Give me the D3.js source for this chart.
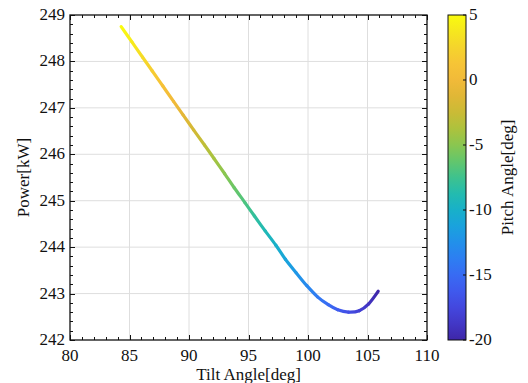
<!DOCTYPE html>
<html>
<head>
<meta charset="utf-8">
<script src="https://cdn.jsdelivr.net/npm/d3@7"></script>
<style>
  body { margin: 0; background: #fff; }
</style>
</head>
<body>
<div id="chart"></div>
<script>
// Data
const pitchAngle = [5, 4, 3, 2, 1, 0, -1, -2, -3, -4, -5, -6, -7, -8, -9, -10, -11, -12, -13, -14, -15, -16, -17, -18, -19, -20];
const tiltAngle = [84.3, 85.2, 86.1, 86.9, 87.8, 88.7, 89.5, 90.4, 91.3, 92.1, 93.0, 93.8, 94.7, 95.5, 96.4, 97.3, 98.1, 99.0, 99.9, 100.8, 101.7, 102.5, 103.4, 104.3, 105.1, 105.9];
const power = [248.75, 248.42, 248.09, 247.80, 247.47, 247.14, 246.85, 246.52, 246.20, 245.91, 245.58, 245.28, 244.96, 244.67, 244.35, 244.04, 243.74, 243.45, 243.17, 242.93, 242.76, 242.65, 242.60, 242.63, 242.78, 243.05];

const xTicks = [80, 85, 90, 95, 100, 105, 110];
const yTicks = [242, 243, 244, 245, 246, 247, 248, 249];
const cTicks = [5, 0, -5, -10, -15, -20];

// parula-like colormap stops
const parulaStops = ["#3e26a8", "#4644e0", "#3d64f6", "#2886f2", "#14a8dc", "#1bbdb0", "#5ec86c", "#a9c63a", "#d9b532", "#fbb83e", "#f3d62c", "#f9fb0e"];

const width = 528, height = 383;
const margin = { left: 70, right: 101, top: 15, bottom: 43 };
const plotW = width - margin.left - margin.right;
const plotH = height - margin.top - margin.bottom;
const serif = '"Liberation Serif", "Times New Roman", "DejaVu Serif", serif';

const svg = d3.select('#chart').append('svg')
    .attr('width', width)
    .attr('height', height)
    .attr('font-family', serif)
    .style('font-family', serif);

const x = d3.scaleLinear().domain([80, 110]).range([margin.left, margin.left + plotW]);
const y = d3.scaleLinear().domain([242, 249]).range([margin.top + plotH, margin.top]);
const parula = d3.interpolateRgbBasis(parulaStops);
const color = d3.scaleSequential(parula).domain([-20, 5]);

// grid
const grid = svg.append('g');
grid.selectAll('.gx').data(xTicks.slice(1, -1)).enter().append('line')
    .attr('x1', d => x(d)).attr('x2', d => x(d))
    .attr('y1', margin.top).attr('y2', margin.top + plotH)
    .attr('stroke', '#dedede').attr('stroke-width', 1);
grid.selectAll('.gy').data(yTicks.slice(1, -1)).enter().append('line')
    .attr('x1', margin.left).attr('x2', margin.left + plotW)
    .attr('y1', d => y(d)).attr('y2', d => y(d))
    .attr('stroke', '#dedede').attr('stroke-width', 1);

// curve: smooth catmull-rom pieces, each with its own gradient
const pts = tiltAngle.map((t, i) => [x(t), y(power[i])]);
const n = pts.length;
const defs = svg.append('defs');
const segs = d3.range(n - 1).map(i => {
    const p0 = pts[Math.max(i - 1, 0)], p1 = pts[i], p2 = pts[i + 1], p3 = pts[Math.min(i + 2, n - 1)];
    const c1 = [p1[0] + (p2[0] - p0[0]) / 6, p1[1] + (p2[1] - p0[1]) / 6];
    const c2 = [p2[0] - (p3[0] - p1[0]) / 6, p2[1] - (p3[1] - p1[1]) / 6];
    return {
        p1, p2,
        d: `M${p1}C${c1} ${c2} ${p2}`,
        col1: color(pitchAngle[i]), col2: color(pitchAngle[i + 1])
    };
});
segs.forEach((s, i) => {
    const g = defs.append('linearGradient')
        .attr('id', 'seg' + i)
        .attr('gradientUnits', 'userSpaceOnUse')
        .attr('x1', s.p1[0]).attr('y1', s.p1[1]).attr('x2', s.p2[0]).attr('y2', s.p2[1]);
    g.append('stop').attr('offset', 0).attr('stop-color', s.col1);
    g.append('stop').attr('offset', 1).attr('stop-color', s.col2);
});
svg.append('g').selectAll('path').data(segs).enter().append('path')
    .attr('d', d => d.d)
    .attr('fill', 'none')
    .attr('stroke', (d, i) => `url(#seg${i})`)
    .attr('stroke-width', 3.2)
    .attr('stroke-linecap', 'round');

// axes: box with inward ticks on all sides
const xMinor = d3.range(80, 110.01, 1);
const yMinor = d3.range(242, 249.001, 0.2);
const tk = svg.append('g').attr('stroke', '#111').attr('stroke-width', 1);
function tickLines(vals, len, isX) {
    vals.forEach(v => {
        if (isX) {
            const px = Math.round(x(v)) + 0.5;
            tk.append('line').attr('x1', px).attr('x2', px).attr('y1', margin.top + plotH).attr('y2', margin.top + plotH - len);
            tk.append('line').attr('x1', px).attr('x2', px).attr('y1', margin.top).attr('y2', margin.top + len);
        } else {
            const py = Math.round(y(v)) + 0.5;
            tk.append('line').attr('y1', py).attr('y2', py).attr('x1', margin.left).attr('x2', margin.left + len);
            tk.append('line').attr('y1', py).attr('y2', py).attr('x1', margin.left + plotW).attr('x2', margin.left + plotW - len);
        }
    });
}
tickLines(xMinor, 3, true);
tickLines(xTicks, 5, true);
tickLines(yMinor, 3, false);
tickLines(yTicks, 5, false);
svg.append('rect')
    .attr('x', margin.left).attr('y', margin.top)
    .attr('width', plotW).attr('height', plotH)
    .attr('fill', 'none').attr('stroke', '#111').attr('stroke-width', 1.3);

// tick labels
svg.append('g').selectAll('text').data(xTicks).enter().append('text')
    .attr('x', d => x(d)).attr('y', margin.top + plotH + 21)
    .attr('text-anchor', 'middle').attr('font-size', 17).attr('fill', '#111')
    .text(d => d);
svg.append('g').selectAll('text').data(yTicks).enter().append('text')
    .attr('x', margin.left - 5).attr('y', d => y(d) + 5)
    .attr('text-anchor', 'end').attr('font-size', 17).attr('fill', '#111')
    .text(d => d);

// axis labels
svg.append('text')
    .attr('x', x(95)).attr('y', 380)
    .attr('text-anchor', 'middle').attr('font-size', 17).attr('fill', '#111')
    .text('Tilt Angle[deg]');
svg.append('text')
    .attr('transform', `translate(29,${margin.top + plotH / 2}) rotate(-90)`)
    .attr('text-anchor', 'middle').attr('font-size', 17).attr('fill', '#111')
    .text('Power[kW]');

// colorbar
const cbX = 448, cbW = 18;
const cy = d3.scaleLinear().domain([-20, 5]).range([margin.top + plotH, margin.top]);
const cg = defs.append('linearGradient').attr('id', 'cbar')
    .attr('x1', 0).attr('y1', 1).attr('x2', 0).attr('y2', 0);
d3.range(0, 1.001, 0.05).forEach(t => {
    cg.append('stop').attr('offset', t).attr('stop-color', parula(t));
});
svg.append('rect')
    .attr('x', cbX).attr('y', margin.top).attr('width', cbW).attr('height', plotH)
    .attr('fill', 'url(#cbar)').attr('stroke', '#111').attr('stroke-width', 1);
svg.append('g').selectAll('line').data(cTicks).enter().append('line')
    .attr('x1', cbX + cbW - 3).attr('x2', cbX + cbW)
    .attr('y1', d => cy(d)).attr('y2', d => cy(d))
    .attr('stroke', '#111');
svg.append('g').selectAll('text').data(cTicks).enter().append('text')
    .attr('x', cbX + cbW + 3).attr('y', d => cy(d) + 5)
    .attr('font-size', 17).attr('fill', '#111')
    .text(d => d < 0 ? '-' + Math.abs(d) : d);
svg.append('text')
    .attr('transform', `translate(513,${margin.top + plotH / 2}) rotate(-90)`)
    .attr('text-anchor', 'middle').attr('font-size', 17).attr('fill', '#111')
    .text('Pitch Angle[deg]');
</script>
</body>
</html>
